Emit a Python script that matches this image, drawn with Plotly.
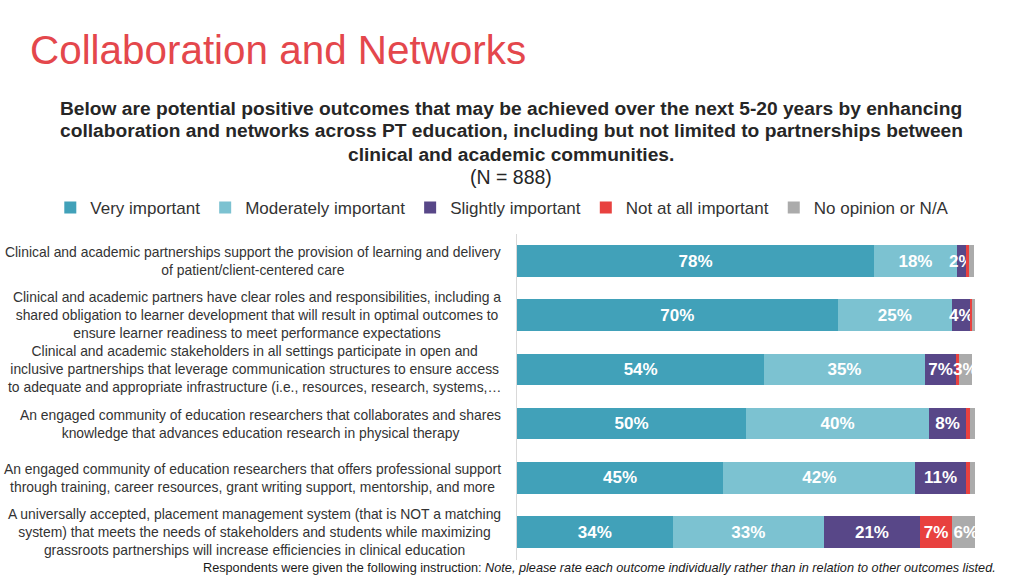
import plotly.graph_objects as go

categories = [
    "Clinical and academic partnerships support the provision of learning and delivery<br>of patient/client-centered care",
    "Clinical and academic partners have clear roles and responsibilities, including a<br>shared obligation to learner development that will result in optimal outcomes to<br>ensure learner readiness to meet performance expectations",
    "Clinical and academic stakeholders in all settings participate in open and<br>inclusive partnerships that leverage communication structures to ensure access<br>to adequate and appropriate infrastructure (i.e., resources, research, systems,…",
    "An engaged community of education researchers that collaborates and shares<br>knowledge that advances education research in physical therapy",
    "An engaged community of education researchers that offers professional support<br>through training, career resources, grant writing support, mentorship, and more",
    "A universally accepted, placement management system (that is NOT a matching<br>system) that meets the needs of stakeholders and students while maximizing<br>grassroots partnerships will increase efficiencies in clinical education",
]

very_important = [78, 70, 54, 50, 45, 34]
moderately_important = [18, 25, 35, 40, 42, 33]
slightly_important = [2, 4, 7, 8, 11, 21]
not_at_all_important = [0.6, 0.4, 0.4, 0.9, 0.8, 7]
no_opinion = [1.2, 0.6, 3, 1.2, 1.2, 6]

subtitle_lines = [
    "Below are potential positive outcomes that may be achieved over the next 5-20 years by enhancing",
    "collaboration and networks across PT education, including but not limited to partnerships between",
    "clinical and academic communities.",
]
n_line = "(N = 888)"

series = [
    ("Very important", very_important, "#41A1B9"),
    ("Moderately important", moderately_important, "#7CC2D1"),
    ("Slightly important", slightly_important, "#584788"),
    ("Not at all important", not_at_all_important, "#E8413F"),
    ("No opinion or N/A", no_opinion, "#ABABAB"),
]

FONT = "Liberation Sans, Arial, Helvetica, sans-serif"

fig = go.Figure()
for name, vals, color in series:
    labels = [f"{round(v)}%" if v >= 2 else "" for v in vals]
    fig.add_trace(go.Bar(
        y=categories, x=vals, name=name, orientation="h",
        marker=dict(color=color, line=dict(width=0)),
        text=labels, textposition="inside", insidetextanchor="middle",
        textangle=0, constraintext="none",
        textfont=dict(family=FONT, size=17, color="white", weight="bold"),
        hoverinfo="skip",
    ))

# category labels: block right edge near x=500px, lines centred within block
for cat in categories:
    fig.add_annotation(
        x=-0.0306, xref="paper", y=cat, yref="y",
        text=cat, showarrow=False, xanchor="right", yanchor="middle", align="center",
        font=dict(family=FONT, size=13.9, color="#333333"),
    )

sub_y = [1.3865, 1.316, 1.245]
for line, yy in zip(subtitle_lines, sub_y):
    fig.add_annotation(
        x=-0.0131, xref="paper", y=yy, yref="paper", text=f"<b>{line}</b>",
        showarrow=False, xanchor="center", yanchor="middle",
        font=dict(family=FONT, size=19.2, color="#262626"),
    )
fig.add_annotation(
    x=-0.0131, xref="paper", y=1.175, yref="paper", text=n_line,
    showarrow=False, xanchor="center", yanchor="middle",
    font=dict(family=FONT, size=19.5, color="#262626"),
)

fig.add_annotation(
    x=1.0502, xref="paper", y=-0.0245, yref="paper",
    text="Respondents were given the following instruction: <i>Note, please rate each outcome individually rather than in relation to other outcomes listed.</i>",
    showarrow=False, xanchor="right", yanchor="middle", align="right",
    font=dict(family=FONT, size=12.7, color="#1a1a1a"),
)

fig.update_layout(
    width=1024, height=576,
    margin=dict(l=517, r=49, t=234, b=16),
    barmode="stack", bargap=0.415,
    paper_bgcolor="white", plot_bgcolor="white",
    title=dict(text="Collaboration and Networks", x=30/1024, xanchor="left",
               y=1-50/576, yanchor="middle", xref="container", yref="container",
               font=dict(family=FONT, size=40.4, color="#E4474C")),
    legend=dict(orientation="h", x=-1.019, xanchor="left", y=1.0798, yanchor="middle",
                font=dict(family=FONT, size=17, color="#333333"),
                traceorder="normal", itemclick=False),
    xaxis=dict(range=[0, 100], showgrid=False, showticklabels=False, zeroline=False, showline=False, fixedrange=True),
    yaxis=dict(autorange="reversed", showticklabels=False, showgrid=False, zeroline=False,
               showline=True, linecolor="#D9D9D9", linewidth=1, ticks="", fixedrange=True),
    showlegend=True,
)

# remove the browser's default 8px body margin so the 1024x576 figure fills the window
fig.write_html("out.html", config={"displayModeBar": False},
               post_script="document.body.style.margin='0';document.body.style.overflow='hidden';")
